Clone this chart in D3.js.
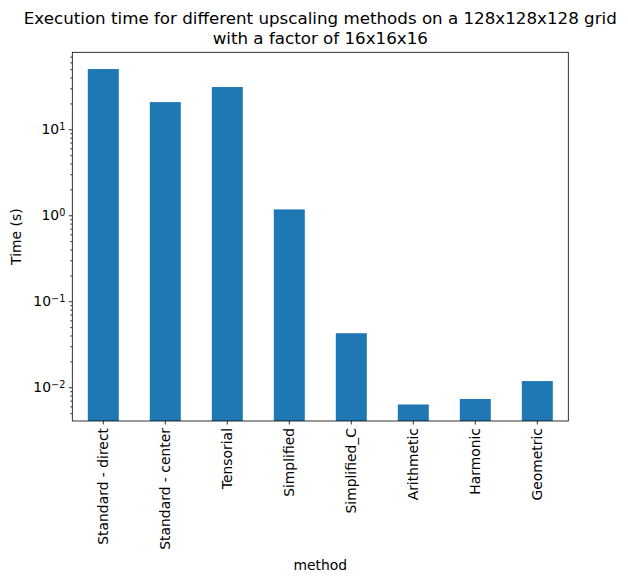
<!DOCTYPE html>
<html>
<head>
<meta charset="utf-8">
<script src="https://cdn.jsdelivr.net/npm/d3@7"></script>
<style>
  body { margin: 0; background: #fff; }
  text { font-family: "DejaVu Sans", sans-serif; fill: #000; }
</style>
</head>
<body>
<div id="chart"></div>
<script>
// data
const methods = ['Standard - direct', 'Standard - center', 'Tensorial', 'Simplified',
  'Simplified_C', 'Arithmetic', 'Harmonic', 'Geometric']
const times = [50.2, 20.7, 31.0, 1.17, 0.0425, 0.0063, 0.0073, 0.0118]
const decades = [-2, -1, 0, 1]
const title = ['Execution time for different upscaling methods on a 128x128x128 grid',
  'with a factor of 16x16x16']

const W = 628, H = 583
const margin = {top: 52.3, right: 628 - 568.3, bottom: 583 - 421, left: 72.3}
const width = W - margin.left - margin.right,
  height = H - margin.top - margin.bottom

const svg = d3.select('#chart').append('svg')
  .attr('width', W).attr('height', H)

const g = svg.append('g')
  .attr('transform', 'translate(' + margin.left + ',' + margin.top + ')')

const xScale = d3.scaleBand()
  .domain(methods)
  .range([0, width])
  .paddingInner(0.5)
  .paddingOuter(0.25)

const yScale = d3.scaleLog()
  .domain([0.00405, 78.6])
  .range([height, 0])

// bars
g.selectAll('.bar')
  .data(methods)
  .enter()
  .append('rect')
  .attr('class', 'bar')
  .attr('x', d => xScale(d))
  .attr('width', xScale.bandwidth())
  .attr('y', (d, i) => yScale(times[i]))
  .attr('height', (d, i) => height - yScale(times[i]))
  .attr('fill', '#1f77b4')

// y axis: major + minor ticks
const minor = []
decades.concat([-3]).forEach(e => {
  for (let k = 2; k <= 9; k++) {
    const v = k * Math.pow(10, e)
    if (v >= yScale.domain()[0] && v <= yScale.domain()[1]) minor.push(v)
  }
})
const yMinor = d3.axisLeft(yScale).tickValues(minor).tickSize(2).tickFormat('')
g.append('g').attr('class', 'y-minor').call(yMinor)

const yAxis = d3.axisLeft(yScale)
  .tickValues(decades.map(e => Math.pow(10, e)))
  .tickSize(3.5).tickPadding(3.5)
  .tickFormat('')
const ya = g.append('g').attr('class', 'y-axis').call(yAxis)
ya.selectAll('.tick').each(function(d, i) {
  const t = d3.select(this).append('text')
    .attr('x', -7).attr('dy', '0.32em')
    .attr('text-anchor', 'end')
    .style('font-size', '13.9px')
  t.append('tspan').text('10')
  t.append('tspan').attr('dy', '-0.45em').style('font-size', '9.7px')
    .text('\u2212'.repeat(decades[i] < 0 ? 1 : 0) + Math.abs(decades[i]))
})

const xAxis = d3.axisBottom(xScale).tickSize(3.5).tickPadding(3.5)
const xa = g.append('g').attr('class', 'x-axis')
  .attr('transform', `translate(0,${height})`)
  .call(xAxis)
xa.selectAll('text')
  .style('font-size', '13.9px')
  .attr('transform', 'rotate(-90)')
  .attr('text-anchor', 'end')
  .attr('x', -7).attr('y', 0).attr('dy', '0.32em')

g.selectAll('.domain').remove()
g.selectAll('.tick line').attr('stroke', '#000').attr('stroke-width', 0.8)

// frame
g.append('rect')
  .attr('width', width).attr('height', height)
  .attr('fill', 'none').attr('stroke', '#000').attr('stroke-width', 0.8)

// labels
svg.append('text')
  .attr('x', margin.left + width / 2).attr('y', 570)
  .attr('text-anchor', 'middle').style('font-size', '13.9px')
  .text('method')

svg.append('text')
  .attr('transform', `translate(21,${margin.top + height / 2}) rotate(-90)`)
  .attr('text-anchor', 'middle').style('font-size', '13.9px')
  .text('Time (s)')

svg.selectAll('.title')
  .data(title)
  .enter()
  .append('text')
  .attr('class', 'title')
  .attr('x', margin.left + width / 2)
  .attr('y', (d, i) => 24 + i * 19.5)
  .attr('text-anchor', 'middle').style('font-size', '16.7px')
  .text(d => d)
</script>
</body>
</html>
